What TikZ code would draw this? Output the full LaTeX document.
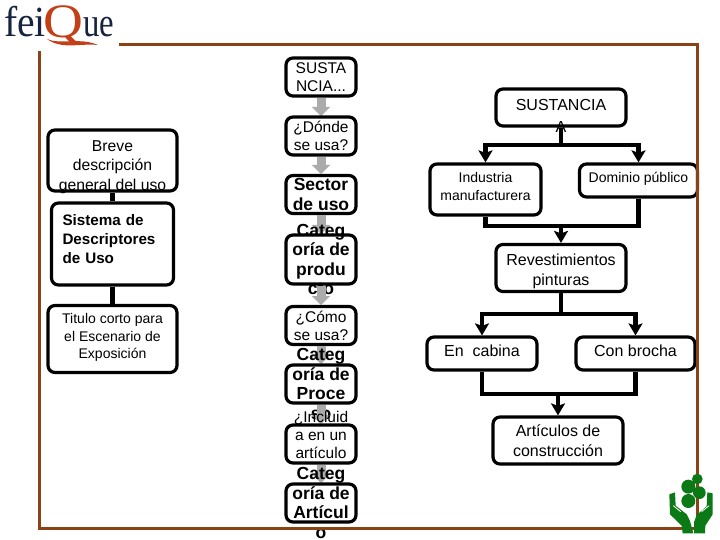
\documentclass[tikz,border=0pt]{standalone}
\usepackage{fontspec}
\setmainfont{Liberation Sans}
\newfontfamily\logofont{Liberation Serif}
\usetikzlibrary{arrows.meta}
\definecolor{framebrown}{HTML}{8B4315}
\definecolor{arrowgray}{HTML}{ABABAB}
\definecolor{logonavy}{HTML}{18233F}
\definecolor{logored}{HTML}{C23F17}
\definecolor{leaf}{HTML}{0B7A16}
\newcommand{\upby}[1]{\rule[-#1]{0pt}{#1}}
\newcommand{\downby}[1]{\rule{0pt}{#1}}
\tikzset{
  x=1pt,y=-1pt,
  box/.style={draw=black,fill=white,line width=3.2pt,rounded corners=7pt,align=center,
    inner xsep=-40pt,inner ysep=-50pt,text=black},
  tiny/.style={font=\fontsize{14}{17.5}\selectfont},
  mid/.style={font=\fontsize{15.5}{18}\selectfont},
  big/.style={font=\fontsize{16}{19.5}\selectfont},
  heavy/.style={font=\fontsize{17.5}{19.6}\selectfont\bfseries},
  grayarrow/.style={draw=arrowgray,line width=9pt,-{Triangle[width=18pt,length=9pt]}},
  tieline/.style={draw=black,line width=5.5pt},
  conn/.style={draw=black,line width=4.5pt,line join=miter},
  connhead/.style={conn,-{Stealth[width=14pt,length=12pt,inset=2.5pt]}},
  framing/.style={draw=framebrown,line width=3pt},
  logotext/.style={inner sep=0pt,anchor=base west,text=logonavy},
}
\begin{document}
\begin{tikzpicture}
\useasboundingbox (0,0) rectangle (720,540);
% ---- left column
\node[box,font=\fontsize{15.7}{19.5}\selectfont,minimum width=129pt,minimum height=61pt] (breve) at (112.5,160.5) {\downby{24pt}Breve\\descripción\\general del uso};
\node[box,minimum width=129pt,minimum height=67pt,tiny] (titulo) at (112.5,339) {Titulo corto para\\el Escenario de\\Exposición\upby{6pt}};
\node[box,minimum width=122pt,minimum height=82pt,text width=100pt,align=left,font=\fontsize{15.2}{19}\selectfont\bfseries] (sistema) at (112.5,244) {Sistema de\\Descriptores\\de Uso\upby{10pt}};
\draw[tieline] (breve.south) -- (sistema.north);
\draw[tieline] (sistema.south) -- (titulo.north);
% ---- centre column
\coordinate (t2) at (321,116);
\coordinate (t3) at (321,174);
\coordinate (t4) at (321,234);
\coordinate (t5) at (321,305);
\coordinate (t6) at (321,364);
\coordinate (t7) at (321,424);
\coordinate (t8) at (321,483);
\node[box,mid,minimum width=70pt,minimum height=38pt] (c1) at (321,77) {SUSTA\\NCIA...};
\draw[grayarrow] (c1.south) -- (t2);
\node[box,mid,minimum width=70pt,minimum height=38pt] (c2) at (321,136) {¿Dónde\\se usa?};
\draw[grayarrow] (c2.south) -- (t3);
\node[box,heavy,minimum width=70pt,minimum height=38pt] (c3) at (321,194.5) {Sector\\de uso};
\draw[grayarrow] (c3.south) -- (t4);
\node[box,heavy,minimum width=70pt,minimum height=49pt] (c4) at (321,259.5) {Categ\\oría de\\produ\\cto};
\draw[grayarrow] (c4.south) -- (t5);
\node[box,mid,minimum width=70pt,minimum height=38pt] (c5) at (321,325.5) {¿Cómo\\se usa?};
\draw[grayarrow] (c5.south) -- (t6);
\node[box,heavy,minimum width=70pt,minimum height=38pt] (c6) at (321,384) {Categ\\oría de\\Proce\\so};
\draw[grayarrow] (c6.south) -- (t7);
\node[box,mid,minimum width=70pt,minimum height=38pt] (c7) at (321,444) {¿Incluid\\a en un\\artículo\\?};
\draw[grayarrow] (c7.south) -- (t8);
\node[box,heavy,minimum width=70pt,minimum height=38pt] (c8) at (321,503) {Categ\\oría de\\Artícul\\o};
% ---- right column
\coordinate (bus1) at (561,145);
\coordinate (bus2) at (561,226);
\coordinate (bus3) at (558,394);
\coordinate (fork) at (561,314);
\node[box,font=\fontsize{16}{22}\selectfont,minimum width=130pt,minimum height=37pt] (sus) at (561,107.5) {\downby{28pt}SUSTANCIA\\A};
\node[box,tiny,minimum width=111pt,minimum height=51pt] (ind) at (485.5,189.5) {Industria\\manufacturera\upby{6pt}};
\node[box,tiny,minimum width=118pt,minimum height=33pt] (dom) at (638.5,180.5) {Dominio público\upby{6pt}};
\node[box,big,minimum width=130pt,minimum height=47pt] (rev) at (561,268) {\downby{18pt}Revestimientos\\pinturas};
\node[box,big,minimum width=110pt,minimum height=33pt] (cab) at (482,353.5) {En \ cabina\upby{5pt}};
\node[box,big,minimum width=119pt,minimum height=33pt] (bro) at (635.5,353.5) {Con brocha\upby{5pt}};
\node[box,big,minimum width=130pt,minimum height=47pt] (art) at (558,440.5) {Artículos de\\construcción};
\draw[conn] (sus.south) -- (bus1);
\draw[connhead] (bus1) -| (ind.north);
\draw[connhead] (bus1) -| (dom.north);
\draw[conn] (ind.south) |- (bus2) -| (dom.south);
\draw[connhead] (bus2) -- (rev.north);
\draw[conn] (rev.south) -- (fork);
\draw[connhead] (fork) -| (cab.north);
\draw[connhead] (fork) -| (bro.north);
\draw[conn] (cab.south) |- (bus3) -| (bro.south);
\draw[connhead] (bus3) -- (art.north);
% ---- frame
\draw[framing] (119,45) -- (697,45) -- (697,528) -- (39,528) -- (39,51);
% ---- logo
\node[logotext,font=\logofont\fontsize{43}{43}\selectfont,xscale=0.92] (fei) at (4,37) {fei};
\node[logotext,font=\logofont\fontsize{48}{48}\selectfont,text=logored,xscale=1.15] (qq) at (43,38) {Q};
\node[logotext,font=\logofont\fontsize{41}{41}\selectfont,xscale=0.8] (ue) at (83,37) {ue};
\fill[logored] (47,39) .. controls (60,45) and (80,37) .. (98,45) .. controls (80,43) and (62,50) .. (47,39) -- cycle;
% ---- emblem
\begin{scope}[shift={(660,465)},x=0.3333pt,y=-0.3333pt]
\fill[leaf] (112,42) circle[radius=16] (85,65) circle[radius=21] (118,83) circle[radius=19] (85,108) circle[radius=21];
\fill[leaf] (28,88) -- (45,82) -- (47,122) -- (80,148) -- (90,168) -- (100,205) -- (68,205) -- (65,182) -- (30,148) -- cycle;
\fill[leaf] (158,85) -- (142,82) -- (140,124) -- (110,150) -- (102,172) -- (102,205) -- (135,205) -- (136,182) -- (158,148) -- cycle;
\draw[white,line width=0.8pt] (40,122) -- (62,140) (147,122) -- (125,140);
\end{scope}
\end{tikzpicture}
\end{document}
